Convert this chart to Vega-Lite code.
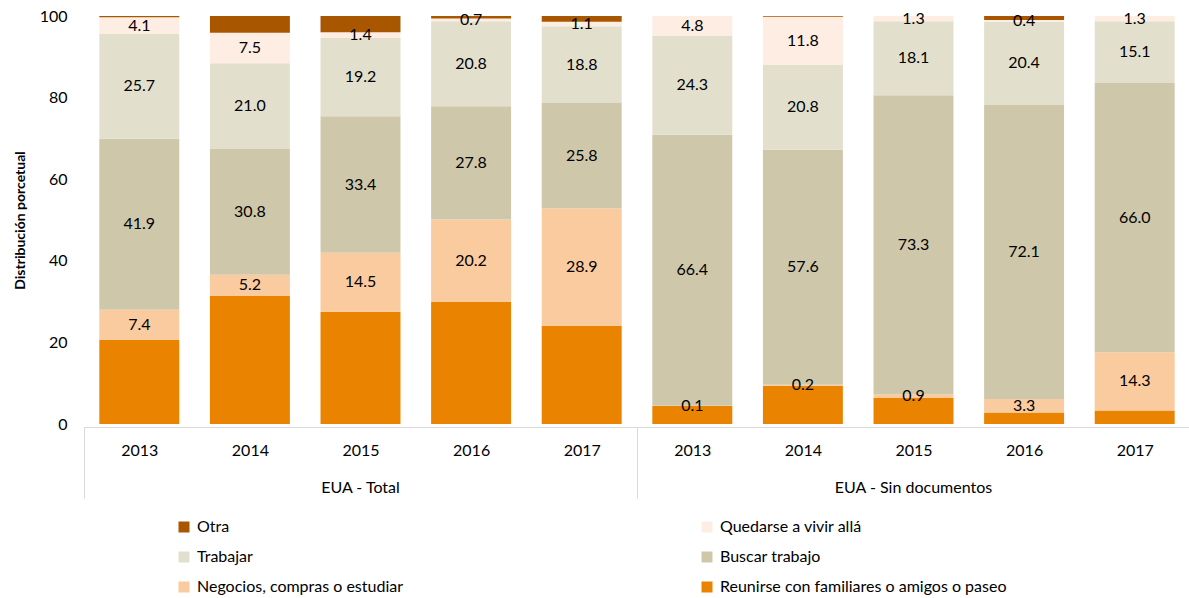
{
  "$schema": "https://vega.github.io/schema/vega-lite/v6.json",
  "padding": {"left": 13, "top": 8, "right": 0, "bottom": 0},
  "config": {
    "font": "Lato",
    "view": {"stroke": null},
    "axis": {"labelColor": "#000000", "titleColor": "#000000", "labelFont": "Lato", "titleFont": "Lato"}
  },
  "data": {
    "values": [
      {"grupo": "EUA - Total", "anio": "2013", "categoria": "Reunirse con familiares o amigos o paseo", "orden": 1, "valor": 20.6},
      {"grupo": "EUA - Total", "anio": "2013", "categoria": "Negocios, compras o estudiar", "orden": 2, "valor": 7.4},
      {"grupo": "EUA - Total", "anio": "2013", "categoria": "Buscar trabajo", "orden": 3, "valor": 41.9},
      {"grupo": "EUA - Total", "anio": "2013", "categoria": "Trabajar", "orden": 4, "valor": 25.7},
      {"grupo": "EUA - Total", "anio": "2013", "categoria": "Quedarse a vivir allá", "orden": 5, "valor": 4.1},
      {"grupo": "EUA - Total", "anio": "2013", "categoria": "Otra", "orden": 6, "valor": 0.3},
      {"grupo": "EUA - Total", "anio": "2014", "categoria": "Reunirse con familiares o amigos o paseo", "orden": 1, "valor": 31.4},
      {"grupo": "EUA - Total", "anio": "2014", "categoria": "Negocios, compras o estudiar", "orden": 2, "valor": 5.2},
      {"grupo": "EUA - Total", "anio": "2014", "categoria": "Buscar trabajo", "orden": 3, "valor": 30.8},
      {"grupo": "EUA - Total", "anio": "2014", "categoria": "Trabajar", "orden": 4, "valor": 21.0},
      {"grupo": "EUA - Total", "anio": "2014", "categoria": "Quedarse a vivir allá", "orden": 5, "valor": 7.5},
      {"grupo": "EUA - Total", "anio": "2014", "categoria": "Otra", "orden": 6, "valor": 4.1},
      {"grupo": "EUA - Total", "anio": "2015", "categoria": "Reunirse con familiares o amigos o paseo", "orden": 1, "valor": 27.5},
      {"grupo": "EUA - Total", "anio": "2015", "categoria": "Negocios, compras o estudiar", "orden": 2, "valor": 14.5},
      {"grupo": "EUA - Total", "anio": "2015", "categoria": "Buscar trabajo", "orden": 3, "valor": 33.4},
      {"grupo": "EUA - Total", "anio": "2015", "categoria": "Trabajar", "orden": 4, "valor": 19.2},
      {"grupo": "EUA - Total", "anio": "2015", "categoria": "Quedarse a vivir allá", "orden": 5, "valor": 1.4},
      {"grupo": "EUA - Total", "anio": "2015", "categoria": "Otra", "orden": 6, "valor": 4.0},
      {"grupo": "EUA - Total", "anio": "2016", "categoria": "Reunirse con familiares o amigos o paseo", "orden": 1, "valor": 29.9},
      {"grupo": "EUA - Total", "anio": "2016", "categoria": "Negocios, compras o estudiar", "orden": 2, "valor": 20.2},
      {"grupo": "EUA - Total", "anio": "2016", "categoria": "Buscar trabajo", "orden": 3, "valor": 27.8},
      {"grupo": "EUA - Total", "anio": "2016", "categoria": "Trabajar", "orden": 4, "valor": 20.8},
      {"grupo": "EUA - Total", "anio": "2016", "categoria": "Quedarse a vivir allá", "orden": 5, "valor": 0.7},
      {"grupo": "EUA - Total", "anio": "2016", "categoria": "Otra", "orden": 6, "valor": 0.6},
      {"grupo": "EUA - Total", "anio": "2017", "categoria": "Reunirse con familiares o amigos o paseo", "orden": 1, "valor": 24.0},
      {"grupo": "EUA - Total", "anio": "2017", "categoria": "Negocios, compras o estudiar", "orden": 2, "valor": 28.9},
      {"grupo": "EUA - Total", "anio": "2017", "categoria": "Buscar trabajo", "orden": 3, "valor": 25.8},
      {"grupo": "EUA - Total", "anio": "2017", "categoria": "Trabajar", "orden": 4, "valor": 18.8},
      {"grupo": "EUA - Total", "anio": "2017", "categoria": "Quedarse a vivir allá", "orden": 5, "valor": 1.1},
      {"grupo": "EUA - Total", "anio": "2017", "categoria": "Otra", "orden": 6, "valor": 1.4},
      {"grupo": "EUA - Sin documentos", "anio": "2013", "categoria": "Reunirse con familiares o amigos o paseo", "orden": 1, "valor": 4.4},
      {"grupo": "EUA - Sin documentos", "anio": "2013", "categoria": "Negocios, compras o estudiar", "orden": 2, "valor": 0.1},
      {"grupo": "EUA - Sin documentos", "anio": "2013", "categoria": "Buscar trabajo", "orden": 3, "valor": 66.4},
      {"grupo": "EUA - Sin documentos", "anio": "2013", "categoria": "Trabajar", "orden": 4, "valor": 24.3},
      {"grupo": "EUA - Sin documentos", "anio": "2013", "categoria": "Quedarse a vivir allá", "orden": 5, "valor": 4.8},
      {"grupo": "EUA - Sin documentos", "anio": "2013", "categoria": "Otra", "orden": 6, "valor": 0.0},
      {"grupo": "EUA - Sin documentos", "anio": "2014", "categoria": "Reunirse con familiares o amigos o paseo", "orden": 1, "valor": 9.4},
      {"grupo": "EUA - Sin documentos", "anio": "2014", "categoria": "Negocios, compras o estudiar", "orden": 2, "valor": 0.2},
      {"grupo": "EUA - Sin documentos", "anio": "2014", "categoria": "Buscar trabajo", "orden": 3, "valor": 57.6},
      {"grupo": "EUA - Sin documentos", "anio": "2014", "categoria": "Trabajar", "orden": 4, "valor": 20.8},
      {"grupo": "EUA - Sin documentos", "anio": "2014", "categoria": "Quedarse a vivir allá", "orden": 5, "valor": 11.8},
      {"grupo": "EUA - Sin documentos", "anio": "2014", "categoria": "Otra", "orden": 6, "valor": 0.2},
      {"grupo": "EUA - Sin documentos", "anio": "2015", "categoria": "Reunirse con familiares o amigos o paseo", "orden": 1, "valor": 6.4},
      {"grupo": "EUA - Sin documentos", "anio": "2015", "categoria": "Negocios, compras o estudiar", "orden": 2, "valor": 0.9},
      {"grupo": "EUA - Sin documentos", "anio": "2015", "categoria": "Buscar trabajo", "orden": 3, "valor": 73.3},
      {"grupo": "EUA - Sin documentos", "anio": "2015", "categoria": "Trabajar", "orden": 4, "valor": 18.1},
      {"grupo": "EUA - Sin documentos", "anio": "2015", "categoria": "Quedarse a vivir allá", "orden": 5, "valor": 1.3},
      {"grupo": "EUA - Sin documentos", "anio": "2015", "categoria": "Otra", "orden": 6, "valor": 0.0},
      {"grupo": "EUA - Sin documentos", "anio": "2016", "categoria": "Reunirse con familiares o amigos o paseo", "orden": 1, "valor": 2.8},
      {"grupo": "EUA - Sin documentos", "anio": "2016", "categoria": "Negocios, compras o estudiar", "orden": 2, "valor": 3.3},
      {"grupo": "EUA - Sin documentos", "anio": "2016", "categoria": "Buscar trabajo", "orden": 3, "valor": 72.1},
      {"grupo": "EUA - Sin documentos", "anio": "2016", "categoria": "Trabajar", "orden": 4, "valor": 20.4},
      {"grupo": "EUA - Sin documentos", "anio": "2016", "categoria": "Quedarse a vivir allá", "orden": 5, "valor": 0.4},
      {"grupo": "EUA - Sin documentos", "anio": "2016", "categoria": "Otra", "orden": 6, "valor": 1.0},
      {"grupo": "EUA - Sin documentos", "anio": "2017", "categoria": "Reunirse con familiares o amigos o paseo", "orden": 1, "valor": 3.3},
      {"grupo": "EUA - Sin documentos", "anio": "2017", "categoria": "Negocios, compras o estudiar", "orden": 2, "valor": 14.3},
      {"grupo": "EUA - Sin documentos", "anio": "2017", "categoria": "Buscar trabajo", "orden": 3, "valor": 66.0},
      {"grupo": "EUA - Sin documentos", "anio": "2017", "categoria": "Trabajar", "orden": 4, "valor": 15.1},
      {"grupo": "EUA - Sin documentos", "anio": "2017", "categoria": "Quedarse a vivir allá", "orden": 5, "valor": 1.3},
      {"grupo": "EUA - Sin documentos", "anio": "2017", "categoria": "Otra", "orden": 6, "valor": 0.0}
    ]
  },
  "facet": {
    "column": {
      "field": "grupo",
      "type": "nominal",
      "sort": ["EUA - Total", "EUA - Sin documentos"],
      "header": {"title": null, "labelOrient": "bottom", "labelFontSize": 16, "labelFont": "Lato", "labelColor": "#000000", "labelPadding": -19}
    }
  },
  "spacing": 0,
  "spec": {
    "width": 553,
    "height": 408,
    "encoding": {
      "x": {
        "field": "anio",
        "type": "ordinal",
        "scale": {"paddingInner": 0.277, "paddingOuter": 0.1385},
        "axis": {
          "title": null,
          "labelAngle": 0,
          "labelFontSize": 16,
          "domainColor": "#d9d9d9",
          "ticks": true,
          "tickSize": 71,
          "tickOffset": -55.3,
          "labelOffset": 55.3,
          "tickColor": {"condition": {"test": "datum.value == '2013'", "value": "#d9d9d9"}, "value": "transparent"},
          "labelPadding": -56
        }
      },
      "y": {
        "field": "valor",
        "type": "quantitative",
        "stack": "zero",
        "scale": {"domain": [0, 100], "nice": false},
        "axis": {
          "title": "Distribución porcetual",
          "titleFontSize": 14,
          "titleFontWeight": "bold",
          "labelFontSize": 16,
          "domain": false,
          "ticks": false,
          "grid": false,
          "values": [0, 20, 40, 60, 80, 100],
          "labelPadding": 17,
          "titlePadding": 12
        }
      },
      "order": {"field": "orden", "type": "quantitative", "sort": "ascending"}
    },
    "layer": [
      {
        "mark": {"type": "bar"},
        "encoding": {
          "color": {
            "field": "categoria",
            "type": "nominal",
            "scale": {
              "domain": ["Otra", "Quedarse a vivir allá", "Trabajar", "Buscar trabajo", "Negocios, compras o estudiar", "Reunirse con familiares o amigos o paseo"],
              "range": ["#A85600", "#FDEDE3", "#E2E0CD", "#CFC7AA", "#F9CB9E", "#E98300"]
            },
            "legend": {
              "title": null,
              "orient": "none",
              "legendX": 92,
              "legendY": 503,
              "columns": 2,
              "direction": "horizontal",
              "symbolType": "square",
              "symbolSize": 121,
              "symbolStrokeWidth": 0,
              "labelFontSize": 16,
              "labelFont": "Lato",
              "labelColor": "#000000",
              "labelLimit": 400,
              "columnPadding": 295,
              "rowPadding": 14,
              "labelOffset": 5
            }
          }
        }
      },
      {
        "mark": {"type": "text", "fontSize": 16, "color": "#000000", "font": "Lato"},
        "encoding": {
          "y": {"field": "valor", "type": "quantitative", "stack": "zero", "bandPosition": 0.5},
          "text": {
            "condition": {"test": "datum.orden == 1 || datum.orden == 6", "value": ""},
            "field": "valor",
            "type": "quantitative",
            "format": ".1f"
          }
        }
      }
    ]
  }
}
